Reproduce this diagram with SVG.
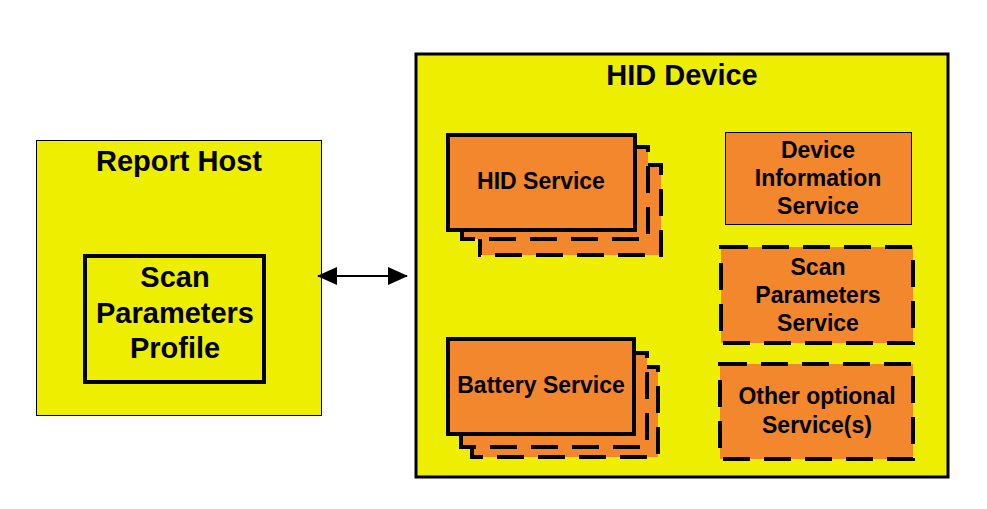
<svg xmlns="http://www.w3.org/2000/svg" width="987" height="509" viewBox="0 0 987 509">
<style>
text{font-family:"Liberation Sans",Arial,sans-serif;font-weight:bold;fill:#000;text-anchor:middle}
.big{font-size:29px}
.svc{font-size:23px}
.yel{fill:#EEEE00;stroke:#000}
.org{fill:#F2872D;stroke:#000}
.solid{stroke-width:4}
.dash{stroke-width:4;stroke-dasharray:27 14}
</style>
<defs>
<marker id="ah" viewBox="0 0 20 18" refX="19" refY="9" markerWidth="20" markerHeight="18" markerUnits="userSpaceOnUse" orient="auto-start-reverse">
<path d="M0,0 L20,9 L0,18 Z" fill="#000"/>
</marker>
</defs>
<rect width="987" height="509" fill="#fff"/>
<g id="report-host">
<rect class="yel" x="36.5" y="140.5" width="285" height="275" stroke-width="1"/>
<text class="big" x="179" y="171">Report Host</text>
</g>
<g id="scan-parameters-profile">
<rect class="yel" x="85" y="256" width="179" height="126" stroke-width="4"/>
<text class="big" x="175" y="287">Scan</text>
<text class="big" x="175" y="323">Parameters</text>
<text class="big" x="175" y="358">Profile</text>
</g>
<g id="hid-device">
<rect class="yel" x="416" y="54" width="532" height="423" stroke-width="3"/>
<text class="big" x="682" y="85">HID Device</text>
</g>
<g id="hid-service">
<rect class="org dash" x="480" y="165" width="181" height="90"/>
<rect class="org dash" x="462" y="147" width="186" height="92"/>
<rect class="org solid" x="448" y="135" width="187" height="95"/>
<text class="svc" x="541" y="189">HID Service</text>
</g>
<g id="battery-service">
<rect class="org dash" x="472" y="367" width="186" height="90"/>
<rect class="org dash" x="461" y="353" width="186" height="94"/>
<rect class="org solid" x="448" y="339" width="186" height="95"/>
<text class="svc" x="541" y="393">Battery Service</text>
</g>
<g id="device-information-service">
<rect class="org" x="725.5" y="132.5" width="186" height="92" stroke-width="1"/>
<text class="svc" x="818" y="158">Device</text>
<text class="svc" x="818" y="186">Information</text>
<text class="svc" x="818" y="214">Service</text>
</g>
<g id="scan-parameters-service">
<rect class="org dash" x="721" y="247" width="192" height="96"/>
<text class="svc" x="818" y="275">Scan</text>
<text class="svc" x="818" y="303">Parameters</text>
<text class="svc" x="818" y="331">Service</text>
</g>
<g id="other-optional-services">
<rect class="org dash" x="720" y="364" width="193" height="95"/>
<text class="svc" x="817" y="404">Other optional</text>
<text class="svc" x="817" y="433">Service(s)</text>
</g>
<g id="connectors">
<line x1="318" y1="276" x2="407" y2="276" stroke="#000" stroke-width="2" marker-start="url(#ah)" marker-end="url(#ah)"/>
</g>
</svg>
